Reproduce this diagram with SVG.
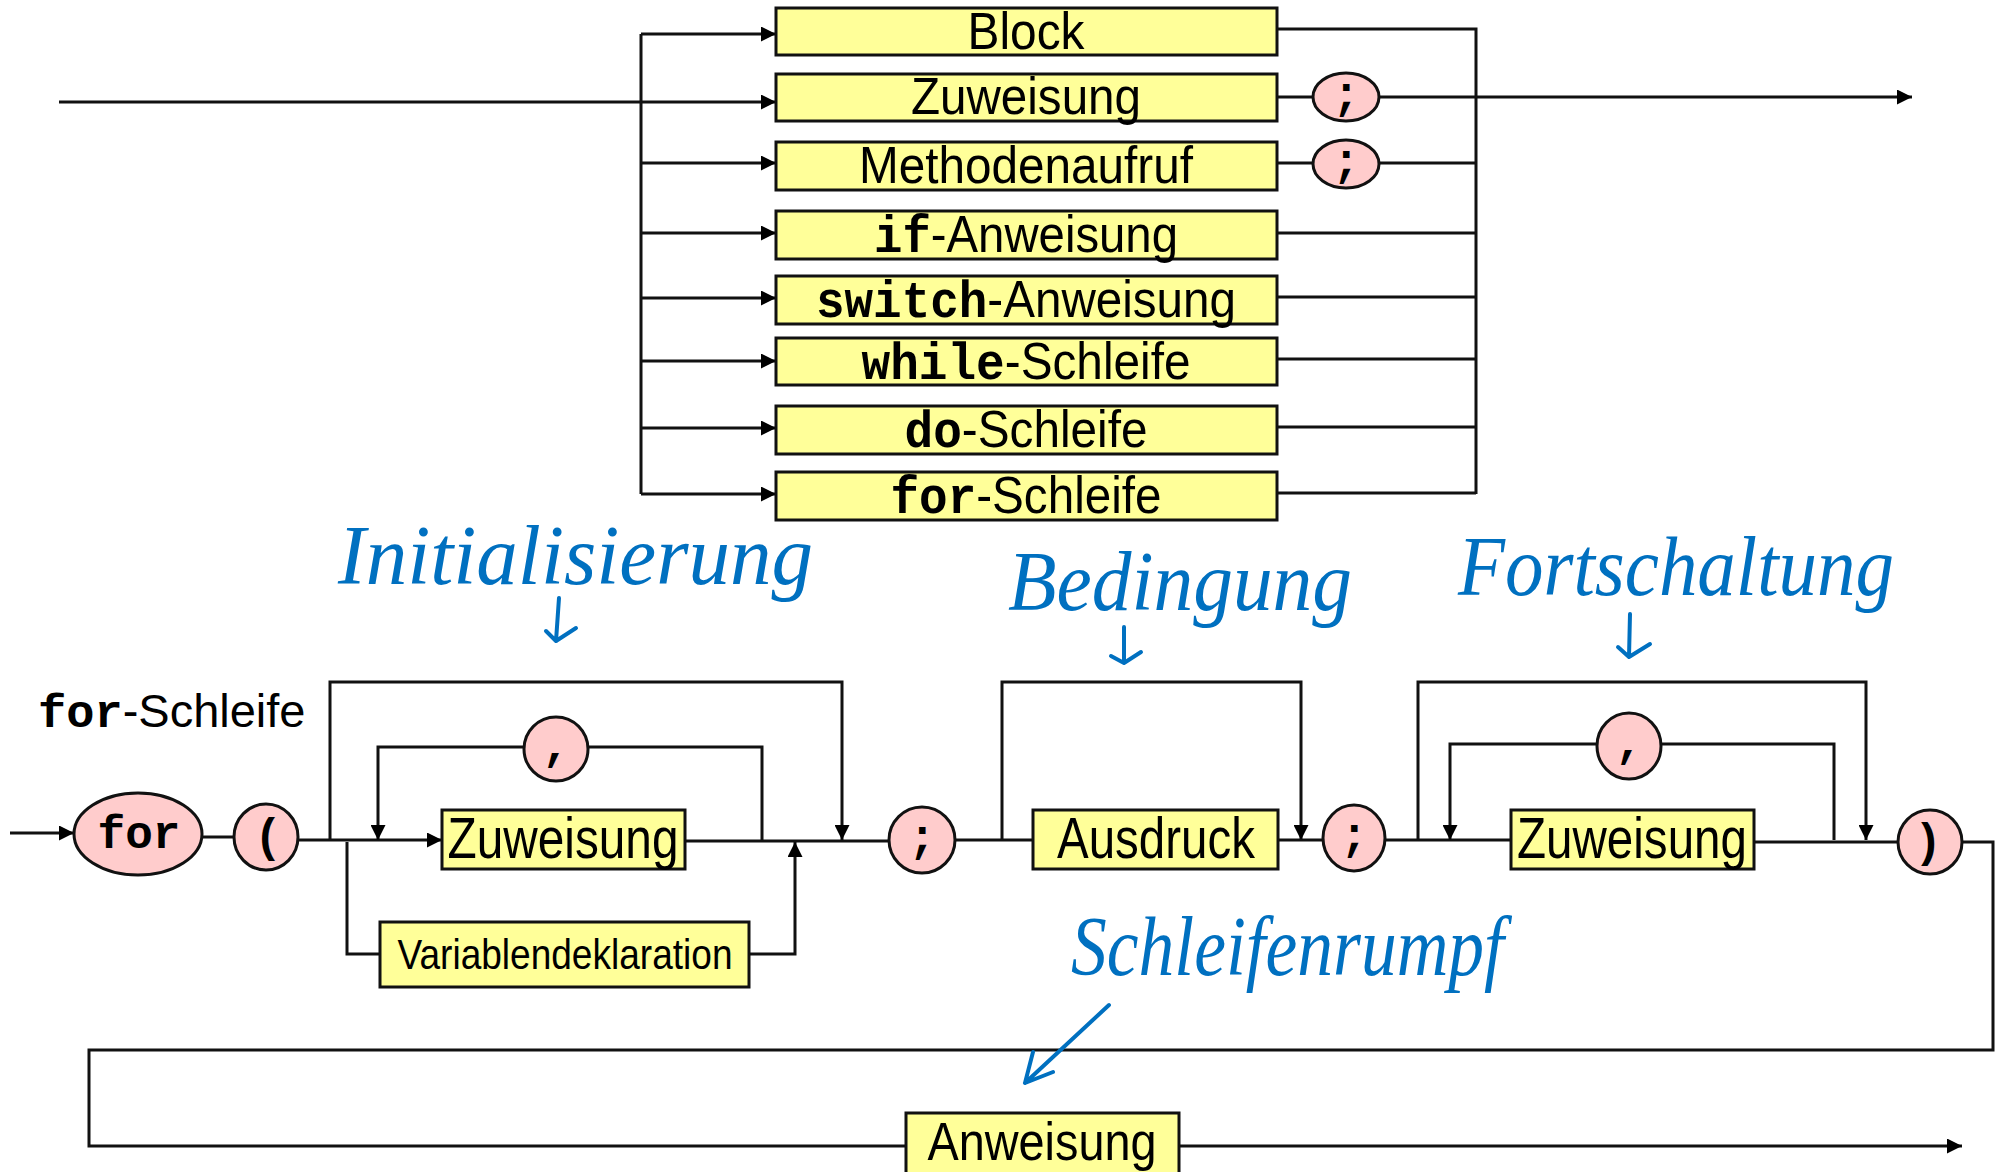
<svg xmlns="http://www.w3.org/2000/svg" width="1999" height="1172" viewBox="0 0 1999 1172">
<defs>
<marker id="arr" viewBox="0 0 10 10" refX="10" refY="5" markerWidth="5" markerHeight="5" markerUnits="strokeWidth" orient="auto">
<path d="M0,0 L10,5 L0,10 Z" fill="#000"/>
</marker>
<style>
.box{fill:#ffff99;stroke:#111;stroke-width:3}
.ov{fill:#ffcccc;stroke:#111;stroke-width:3}
.ln{fill:none;stroke:#111;stroke-width:3}
.a{marker-end:url(#arr)}
.t{font-family:"Liberation Sans",Arial,sans-serif;fill:#000;text-anchor:middle}
.m{font-family:"Liberation Mono","Courier New",monospace;font-weight:bold}
.ot{font-family:"Liberation Mono","Courier New",monospace;font-weight:bold;fill:#000;text-anchor:middle}
.hw{font-family:"Liberation Serif",serif;font-style:italic;fill:#0070c0}
.hl{fill:none;stroke:#0070c0;stroke-width:4;stroke-linecap:round;stroke-linejoin:round}
</style>
</defs>
<rect width="1999" height="1172" fill="#fff"/>

<g id="connectors">
<!-- top section -->
<path class="ln a" d="M59,102 H776"/>
<path class="ln" d="M641,34 V494"/>
<path class="ln a" d="M641,34 H776"/>
<path class="ln a" d="M641,163 H776"/>
<path class="ln a" d="M641,233 H776"/>
<path class="ln a" d="M641,298 H776"/>
<path class="ln a" d="M641,361 H776"/>
<path class="ln a" d="M641,428 H776"/>
<path class="ln a" d="M641,494 H776"/>
<path class="ln" d="M1277,29 H1476 V494"/>
<path class="ln" d="M1277,97 H1313"/>
<path class="ln a" d="M1379,97 H1912"/>
<path class="ln" d="M1277,163 H1313"/>
<path class="ln" d="M1379,163 H1476"/>
<path class="ln" d="M1277,233 H1476"/>
<path class="ln" d="M1277,297 H1476"/>
<path class="ln" d="M1277,359 H1476"/>
<path class="ln" d="M1277,427 H1476"/>
<path class="ln" d="M1277,493 H1476"/>
<!-- bottom section -->
<path class="ln a" d="M10,833 H74"/>
<path class="ln" d="M202,837 H234"/>
<path class="ln a" d="M298,840 H442"/>
<path class="ln" d="M685,841 H889"/>
<path class="ln a" d="M330,840 V682 H842 V840"/>
<path class="ln" d="M762,841 V747 H588"/>
<path class="ln a" d="M524,747 H378 V840"/>
<path class="ln" d="M347,842 V954 H380"/>
<path class="ln a" d="M749,954 H795 V842"/>
<path class="ln" d="M955,840 H1033"/>
<path class="ln a" d="M1002,840 V682 H1301 V840"/>
<path class="ln" d="M1278,840 H1323"/>
<path class="ln" d="M1385,840 H1511"/>
<path class="ln a" d="M1418,840 V682 H1866 V840"/>
<path class="ln" d="M1834,840 V744 H1661"/>
<path class="ln a" d="M1596,744 H1450 V840"/>
<path class="ln" d="M1754,842 H1898"/>
<path class="ln" d="M1962,842 H1993 V1050 H89 V1146 H906"/>
<path class="ln a" d="M1179,1146 H1962"/>
</g>

<g id="n-block"><rect class="box" x="776" y="8" width="501" height="47"/><text class="t" x="1026" y="49" font-size="52" textLength="117" lengthAdjust="spacingAndGlyphs">Block</text></g>
<g id="n-zuweisung-top"><rect class="box" x="776" y="74" width="501" height="47"/><text class="t" x="1026" y="114" font-size="52" textLength="230" lengthAdjust="spacingAndGlyphs">Zuweisung</text></g>
<g id="n-methodenaufruf"><rect class="box" x="776" y="142" width="501" height="48"/><text class="t" x="1026" y="183" font-size="52" textLength="334" lengthAdjust="spacingAndGlyphs">Methodenaufruf</text></g>
<g id="n-if"><rect class="box" x="776" y="211" width="501" height="48"/><text class="t" x="1026" y="252" font-size="52" textLength="304" lengthAdjust="spacingAndGlyphs"><tspan class="m">if</tspan>-Anweisung</text></g>
<g id="n-switch"><rect class="box" x="776" y="276" width="501" height="48"/><text class="t" x="1026" y="317" font-size="52" textLength="420" lengthAdjust="spacingAndGlyphs"><tspan class="m">switch</tspan>-Anweisung</text></g>
<g id="n-while"><rect class="box" x="776" y="338" width="501" height="47"/><text class="t" x="1026" y="379" font-size="52" textLength="329" lengthAdjust="spacingAndGlyphs"><tspan class="m">while</tspan>-Schleife</text></g>
<g id="n-do"><rect class="box" x="776" y="406" width="501" height="48"/><text class="t" x="1026" y="447" font-size="52" textLength="243" lengthAdjust="spacingAndGlyphs"><tspan class="m">do</tspan>-Schleife</text></g>
<g id="n-for-top"><rect class="box" x="776" y="472" width="501" height="48"/><text class="t" x="1026" y="513" font-size="52" textLength="271" lengthAdjust="spacingAndGlyphs"><tspan class="m">for</tspan>-Schleife</text></g>
<g id="n-semi1"><ellipse class="ov" cx="1346" cy="97" rx="33" ry="24"/><text class="ot" x="1346" y="109" font-size="46">;</text></g>
<g id="n-semi2"><ellipse class="ov" cx="1346" cy="164" rx="33" ry="24"/><text class="ot" x="1346" y="176" font-size="46">;</text></g>

<g id="n-title"><text class="t" x="38" y="727" font-size="47" style="text-anchor:start"><tspan class="m">for</tspan>-Schleife</text></g>
<g id="n-for"><ellipse class="ov" cx="138" cy="834" rx="64" ry="41"/><text class="ot" x="139" y="848" font-size="46">for</text></g>
<g id="n-lparen"><ellipse class="ov" cx="266" cy="837" rx="32" ry="33"/><text class="ot" x="268" y="851" font-size="46">(</text></g>
<g id="n-comma1"><ellipse class="ov" cx="556" cy="749" rx="32" ry="32"/><text class="ot" x="556" y="760" font-size="46">,</text></g>
<g id="n-zuw1"><rect class="box" x="442" y="810" width="243" height="59"/><text class="t" x="563" y="858" font-size="57" textLength="231" lengthAdjust="spacingAndGlyphs">Zuweisung</text></g>
<g id="n-vardekl"><rect class="box" x="380" y="922" width="369" height="65"/><text class="t" x="565" y="969" font-size="42" textLength="335" lengthAdjust="spacingAndGlyphs">Variablendeklaration</text></g>
<g id="n-semi3"><ellipse class="ov" cx="922" cy="840" rx="33" ry="33"/><text class="ot" x="922" y="852" font-size="46">;</text></g>
<g id="n-ausdruck"><rect class="box" x="1033" y="810" width="245" height="59"/><text class="t" x="1156" y="858" font-size="57" textLength="198" lengthAdjust="spacingAndGlyphs">Ausdruck</text></g>
<g id="n-semi4"><ellipse class="ov" cx="1354" cy="838" rx="31" ry="33"/><text class="ot" x="1354" y="850" font-size="46">;</text></g>
<g id="n-comma2"><ellipse class="ov" cx="1629" cy="746" rx="32" ry="33"/><text class="ot" x="1629" y="757" font-size="46">,</text></g>
<g id="n-zuw2"><rect class="box" x="1511" y="810" width="243" height="59"/><text class="t" x="1632" y="858" font-size="57" textLength="230" lengthAdjust="spacingAndGlyphs">Zuweisung</text></g>
<g id="n-rparen"><ellipse class="ov" cx="1930" cy="842" rx="32" ry="32"/><text class="ot" x="1928" y="856" font-size="46">)</text></g>
<g id="n-anweisung"><rect class="box" x="906" y="1113" width="273" height="70"/><text class="t" x="1042" y="1160" font-size="54" textLength="229" lengthAdjust="spacingAndGlyphs">Anweisung</text></g>

<g id="annotations">
<text class="hw" x="338" y="584" font-size="84" textLength="475" lengthAdjust="spacingAndGlyphs">Initialisierung</text>
<path class="hl" d="M559,598 L556,641 M546,631 L556,641 L576,628"/>
<text class="hw" x="1008" y="610" font-size="84" textLength="344" lengthAdjust="spacingAndGlyphs">Bedingung</text>
<path class="hl" d="M1124,627 L1124,663 M1111,656 L1124,663 L1141,652"/>
<text class="hw" x="1458" y="595" font-size="84" textLength="436" lengthAdjust="spacingAndGlyphs">Fortschaltung</text>
<path class="hl" d="M1630,614 L1629,657 M1618,647 L1629,657 L1650,644"/>
<text class="hw" x="1071" y="975" font-size="84" textLength="433" lengthAdjust="spacingAndGlyphs">Schleifenrumpf</text>
<path class="hl" d="M1109,1005 L1025,1083 M1033,1052 L1025,1083 L1053,1072"/>
</g>
</svg>
